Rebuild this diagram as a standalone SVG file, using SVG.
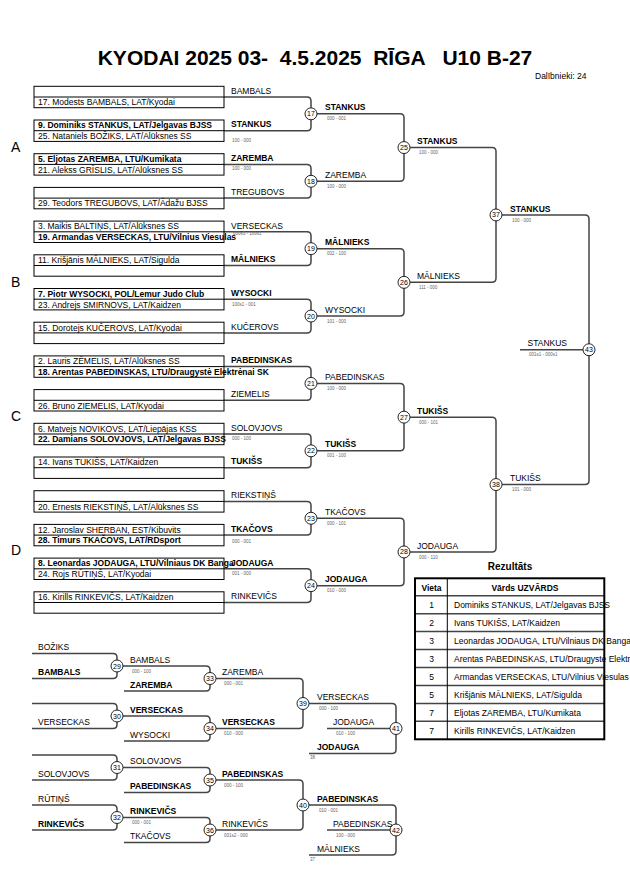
<svg xmlns="http://www.w3.org/2000/svg" width="630" height="891" viewBox="0 0 630 891">
<style>
text{font-family:"Liberation Sans",Arial,sans-serif;font-size:8.5px;fill:#000}
.b{font-weight:bold}
.s{font-size:4.5px;fill:#666}
.tiny{font-size:4.5px;fill:#666}
.n{font-size:7px;text-anchor:middle}
.box rect{fill:none;stroke:#000;stroke-width:1}
.box line{stroke:#000;stroke-width:1}
.ln{fill:none;stroke:#444;stroke-width:1.5}
.m circle{fill:#fff;stroke:#222;stroke-width:1}
.pool{font-size:14px}
.tb{fill:none;stroke:#000;stroke-width:2}
.tl{stroke:#444;stroke-width:1.5}
.tc{text-anchor:middle}
.title{white-space:pre}
</style>
<rect width="630" height="891" fill="#fff"/>
<text x="315" y="64.5" class="b tc title" xml:space="preserve" style="font-size:21px">KYODAI 2025 03-  4.5.2025  RĪGA   U10 B-27</text>
<text x="535" y="79">Dalībnieki: 24</text>
<text x="11" y="152" class="pool">A</text>
<text x="11" y="287" class="pool">B</text>
<text x="11" y="421" class="pool">C</text>
<text x="11" y="555" class="pool">D</text>

<g id="connectors">
<path class="ln" d="M224 97 H307 Q311 97 311 101 V126.7 Q311 130.7 307 130.7 H224"/>
<path class="ln" d="M224 164.4 H307 Q311 164.4 311 168.4 V194.1 Q311 198.1 307 198.1 H224"/>
<path class="ln" d="M224 231.8 H307 Q311 231.8 311 235.8 V261.5 Q311 265.5 307 265.5 H224"/>
<path class="ln" d="M224 299.2 H307 Q311 299.2 311 303.2 V328.9 Q311 332.9 307 332.9 H224"/>
<path class="ln" d="M224 366.6 H307 Q311 366.6 311 370.6 V396.3 Q311 400.3 307 400.3 H224"/>
<path class="ln" d="M224 434 H307 Q311 434 311 438 V463.7 Q311 467.7 307 467.7 H224"/>
<path class="ln" d="M224 501.4 H307 Q311 501.4 311 505.4 V531.1 Q311 535.1 307 535.1 H224"/>
<path class="ln" d="M224 568.8 H307 Q311 568.8 311 572.8 V598.5 Q311 602.5 307 602.5 H224"/>
<path class="ln" d="M317 113.85 H400 Q404 113.85 404 117.85 V177.25 Q404 181.25 400 181.25 H317"/>
<path class="ln" d="M317 248.65 H400 Q404 248.65 404 252.65 V312.05 Q404 316.05 400 316.05 H317"/>
<path class="ln" d="M317 383.45 H400 Q404 383.45 404 387.45 V446.85 Q404 450.85 400 450.85 H317"/>
<path class="ln" d="M317 518.25 H400 Q404 518.25 404 522.25 V581.65 Q404 585.65 400 585.65 H317"/>
<path class="ln" d="M410 147.55 H492 Q496 147.55 496 151.55 V278.35 Q496 282.35 492 282.35 H410"/>
<path class="ln" d="M410 417.15 H492 Q496 417.15 496 421.15 V547.95 Q496 551.95 492 551.95 H410"/>
<path class="ln" d="M502 214.95 H585 Q589 214.95 589 218.95 V480.55 Q589 484.55 585 484.55 H502"/>
<path class="ln" d="M520 349.75 H583"/>
<path class="ln" d="M32 653.5 H113 Q117 653.5 117 657.5 V674.5 Q117 678.5 113 678.5 H32"/>
<path class="ln" d="M32 703.5 H113 Q117 703.5 117 707.5 V724.5 Q117 728.5 113 728.5 H32"/>
<path class="ln" d="M123 666 H206 Q210 666 210 670 V687 Q210 691 206 691 H124"/>
<path class="ln" d="M123 716 H206 Q210 716 210 720 V737 Q210 741 206 741 H124"/>
<path class="ln" d="M216 678.5 H299 Q303 678.5 303 682.5 V724.5 Q303 728.5 299 728.5 H216"/>
<path class="ln" d="M309 703.5 H392 Q396 703.5 396 707.5 V749.5 Q396 753.5 392 753.5 H309"/>
<path class="ln" d="M327 728.5 H390"/>
<path class="ln" d="M32 755 H113 Q117 755 117 759 V776 Q117 780 113 780 H32"/>
<path class="ln" d="M32 805 H113 Q117 805 117 809 V826 Q117 830 113 830 H32"/>
<path class="ln" d="M123 767.5 H206 Q210 767.5 210 771.5 V788.5 Q210 792.5 206 792.5 H124"/>
<path class="ln" d="M123 817.5 H206 Q210 817.5 210 821.5 V838.5 Q210 842.5 206 842.5 H124"/>
<path class="ln" d="M216 780 H299 Q303 780 303 784 V826 Q303 830 299 830 H216"/>
<path class="ln" d="M309 805 H392 Q396 805 396 809 V851 Q396 855 392 855 H309"/>
<path class="ln" d="M327 830 H390"/>
</g>

<g id="entries">
<g id="box0" class="box"><rect x="34" y="86.3" width="190" height="21.4"/><line x1="34" y1="97" x2="224" y2="97"/><text x="38" y="105.3">17. Modests BAMBALS, LAT/Kyodai</text></g>
<g id="box1" class="box"><rect x="34" y="120" width="190" height="21.4"/><line x1="34" y1="130.7" x2="224" y2="130.7"/><text x="38" y="128.3" class="b">9. Dominiks STANKUS, LAT/Jelgavas BJSS</text><text x="38" y="139">25. Nataniels BOŽIKS, LAT/Alūksnes SS</text></g>
<g id="box2" class="box"><rect x="34" y="153.7" width="190" height="21.4"/><line x1="34" y1="164.4" x2="224" y2="164.4"/><text x="38" y="162" class="b">5. Eljotas ZAREMBA, LTU/Kumikata</text><text x="38" y="172.7">21. Alekss GRĪSLIS, LAT/Alūksnes SS</text></g>
<g id="box3" class="box"><rect x="34" y="187.4" width="190" height="21.4"/><line x1="34" y1="198.1" x2="224" y2="198.1"/><text x="38" y="206.4">29. Teodors TREGUBOVS, LAT/Ādažu BJSS</text></g>
<g id="box4" class="box"><rect x="34" y="221.1" width="190" height="21.4"/><line x1="34" y1="231.8" x2="224" y2="231.8"/><text x="38" y="229.4">3. Maikis BALTIŅŠ, LAT/Alūksnes SS</text><text x="38" y="240.1" class="b">19. Armandas VERSECKAS, LTU/Vilnius Viesulas</text></g>
<g id="box5" class="box"><rect x="34" y="254.8" width="190" height="21.4"/><line x1="34" y1="265.5" x2="224" y2="265.5"/><text x="38" y="263.1">11. Krišjānis MĀLNIEKS, LAT/Sigulda</text></g>
<g id="box6" class="box"><rect x="34" y="288.5" width="190" height="21.4"/><line x1="34" y1="299.2" x2="224" y2="299.2"/><text x="38" y="296.8" class="b">7. Piotr WYSOCKI, POL/Lemur Judo Club</text><text x="38" y="307.5">23. Andrejs SMIRNOVS, LAT/Kaidzen</text></g>
<g id="box7" class="box"><rect x="34" y="322.2" width="190" height="21.4"/><line x1="34" y1="332.9" x2="224" y2="332.9"/><text x="38" y="330.5">15. Dorotejs KUČEROVS, LAT/Kyodai</text></g>
<g id="box8" class="box"><rect x="34" y="355.9" width="190" height="21.4"/><line x1="34" y1="366.6" x2="224" y2="366.6"/><text x="38" y="364.2">2. Lauris ZĒMELIS, LAT/Alūksnes SS</text><text x="38" y="374.9" class="b">18. Arentas PABEDINSKAS, LTU/Draugystė Elektrėnai SK</text></g>
<g id="box9" class="box"><rect x="34" y="389.6" width="190" height="21.4"/><line x1="34" y1="400.3" x2="224" y2="400.3"/><text x="38" y="408.6">26. Bruno ZIEMELIS, LAT/Kyodai</text></g>
<g id="box10" class="box"><rect x="34" y="423.3" width="190" height="21.4"/><line x1="34" y1="434" x2="224" y2="434"/><text x="38" y="431.6">6. Matvejs NOVIKOVS, LAT/Liepājas KSS</text><text x="38" y="442.3" class="b">22. Damians SOLOVJOVS, LAT/Jelgavas BJSS</text></g>
<g id="box11" class="box"><rect x="34" y="457" width="190" height="21.4"/><line x1="34" y1="467.7" x2="224" y2="467.7"/><text x="38" y="465.3">14. Ivans TUKIŠS, LAT/Kaidzen</text></g>
<g id="box12" class="box"><rect x="34" y="490.7" width="190" height="21.4"/><line x1="34" y1="501.4" x2="224" y2="501.4"/><text x="38" y="509.7">20. Ernests RIEKSTIŅŠ, LAT/Alūksnes SS</text></g>
<g id="box13" class="box"><rect x="34" y="524.4" width="190" height="21.4"/><line x1="34" y1="535.1" x2="224" y2="535.1"/><text x="38" y="532.7">12. Jaroslav SHERBAN, EST/Kibuvits</text><text x="38" y="543.4" class="b">28. Timurs TKAČOVS, LAT/RDsport</text></g>
<g id="box14" class="box"><rect x="34" y="558.1" width="190" height="21.4"/><line x1="34" y1="568.8" x2="224" y2="568.8"/><text x="38" y="566.4" class="b">8. Leonardas JODAUGA, LTU/Vilniaus DK Banga</text><text x="38" y="577.1">24. Rojs RŪTIŅŠ, LAT/Kyodai</text></g>
<g id="box15" class="box"><rect x="34" y="591.8" width="190" height="21.4"/><line x1="34" y1="602.5" x2="224" y2="602.5"/><text x="38" y="600.1">16. Kirills RINKEVIČS, LAT/Kaidzen</text></g>
</g>

<g id="round1-labels">
<text x="231" y="93.7">BAMBALS</text>
<text x="231" y="127.4" class="b">STANKUS</text><text x="232" y="142" class="s">100 - 000</text>
<text x="231" y="161.1" class="b">ZAREMBA</text><text x="232" y="170" class="s">100 - 000</text>
<text x="231" y="194.8">TREGUBOVS</text>
<text x="231" y="228.5">VERSECKAS</text><text x="233" y="235" class="s">000s3 - 100s1</text>
<text x="231" y="262.2" class="b">MĀLNIEKS</text>
<text x="231" y="295.9" class="b">WYSOCKI</text><text x="232" y="306" class="s">100s1 - 001</text>
<text x="231" y="329.6">KUČEROVS</text>
<text x="231" y="363.3" class="b">PABEDINSKAS</text>
<text x="231" y="397">ZIEMELIS</text>
<text x="231" y="430.7">SOLOVJOVS</text><text x="232" y="440" class="s">000 - 100</text>
<text x="231" y="464.4" class="b">TUKIŠS</text>
<text x="231" y="498.1">RIEKSTIŅŠ</text>
<text x="231" y="531.8" class="b">TKAČOVS</text><text x="232" y="542.7" class="s">000 - 001</text>
<text x="231" y="565.5" class="b">JODAUGA</text><text x="232" y="575" class="s">001 - 000</text>
<text x="231" y="599.2">RINKEVIČS</text>
</g>

<g id="m17" class="m"><circle cx="311" cy="113.85" r="6"/><text x="311" y="116.3" class="n">17</text><text x="325" y="110.4" class="b">STANKUS</text><text x="327" y="120.4" class="s">000 - 001</text></g>
<g id="m18" class="m"><circle cx="311" cy="181.25" r="6"/><text x="311" y="183.7" class="n">18</text><text x="325" y="177.8">ZAREMBA</text><text x="327" y="187.8" class="s">100 - 000</text></g>
<g id="m19" class="m"><circle cx="311" cy="248.65" r="6"/><text x="311" y="251.1" class="n">19</text><text x="325" y="245.2" class="b">MĀLNIEKS</text><text x="327" y="255.2" class="s">002 - 100</text></g>
<g id="m20" class="m"><circle cx="311" cy="316.05" r="6"/><text x="311" y="318.5" class="n">20</text><text x="325" y="312.6">WYSOCKI</text><text x="327" y="322.6" class="s">101 - 000</text></g>
<g id="m21" class="m"><circle cx="311" cy="383.45" r="6"/><text x="311" y="385.9" class="n">21</text><text x="325" y="380">PABEDINSKAS</text><text x="327" y="390" class="s">100 - 000</text></g>
<g id="m22" class="m"><circle cx="311" cy="450.85" r="6"/><text x="311" y="453.3" class="n">22</text><text x="325" y="447.4" class="b">TUKIŠS</text><text x="327" y="457.4" class="s">001 - 100</text></g>
<g id="m23" class="m"><circle cx="311" cy="518.25" r="6"/><text x="311" y="520.7" class="n">23</text><text x="325" y="514.8">TKAČOVS</text><text x="327" y="524.8" class="s">000 - 101</text></g>
<g id="m24" class="m"><circle cx="311" cy="585.65" r="6"/><text x="311" y="588.1" class="n">24</text><text x="325" y="582.2" class="b">JODAUGA</text><text x="327" y="592.2" class="s">010 - 000</text></g>
<g id="m25" class="m"><circle cx="404" cy="147.55" r="6"/><text x="404" y="150" class="n">25</text><text x="417" y="144.1" class="b">STANKUS</text><text x="419" y="154.1" class="s">100 - 000</text></g>
<g id="m26" class="m"><circle cx="404" cy="282.35" r="6"/><text x="404" y="284.8" class="n">26</text><text x="417" y="278.9">MĀLNIEKS</text><text x="419" y="288.9" class="s">111 - 000</text></g>
<g id="m27" class="m"><circle cx="404" cy="417.15" r="6"/><text x="404" y="419.6" class="n">27</text><text x="417" y="413.7" class="b">TUKIŠS</text><text x="419" y="423.7" class="s">000 - 101</text></g>
<g id="m28" class="m"><circle cx="404" cy="551.95" r="6"/><text x="404" y="554.4" class="n">28</text><text x="417" y="548.5">JODAUGA</text><text x="419" y="558.5" class="s">000 - 110</text></g>
<g id="m37" class="m"><circle cx="496" cy="214.95" r="6"/><text x="496" y="217.4" class="n">37</text><text x="510" y="211.5" class="b">STANKUS</text><text x="512" y="221.5" class="s">100 - 000</text></g>
<g id="m38" class="m"><circle cx="496" cy="484.55" r="6"/><text x="496" y="487" class="n">38</text><text x="510" y="481.1">TUKIŠS</text><text x="512" y="491.1" class="s">101 - 000</text></g>
<g id="m43" class="m"><circle cx="589" cy="349.75" r="6"/><text x="589" y="352.2" class="n">43</text><text x="527.5" y="345.7">STANKUS</text><text x="529" y="356" class="s">001s1 - 000s1</text></g>

<g id="repechage-entries">
<text x="38" y="650">BOŽIKS</text>
<text x="38" y="675" class="b">BAMBALS</text>
<text x="38" y="725">VERSECKAS</text>
<text x="38" y="776.5">SOLOVJOVS</text>
<text x="38" y="801.5">RŪTIŅŠ</text>
<text x="38" y="826.5" class="b">RINKEVIČS</text>
</g>
<g id="m29" class="m"><circle cx="117" cy="666" r="6"/><text x="117" y="668.5" class="n">29</text><text x="130" y="662.5">BAMBALS</text><text x="132" y="672.5" class="s">000 - 100</text><text x="130" y="687.5" class="b">ZAREMBA</text></g>
<g id="m30" class="m"><circle cx="117" cy="716" r="6"/><text x="117" y="718.5" class="n">30</text><text x="130" y="712.5" class="b">VERSECKAS</text><text x="130" y="737.5">WYSOCKI</text></g>
<g id="m31" class="m"><circle cx="117" cy="767.5" r="6"/><text x="117" y="770" class="n">31</text><text x="130" y="764">SOLOVJOVS</text><text x="130" y="789" class="b">PABEDINSKAS</text></g>
<g id="m32" class="m"><circle cx="117" cy="817.5" r="6"/><text x="117" y="820" class="n">32</text><text x="130" y="814" class="b">RINKEVIČS</text><text x="132" y="824" class="s">000 - 001</text><text x="130" y="839">TKAČOVS</text></g>
<g id="m33" class="m"><circle cx="210" cy="678.5" r="6"/><text x="210" y="681" class="n">33</text><text x="222" y="675">ZAREMBA</text><text x="224" y="685" class="s">000 - 001</text></g>
<g id="m34" class="m"><circle cx="210" cy="728.5" r="6"/><text x="210" y="731" class="n">34</text><text x="222" y="725" class="b">VERSECKAS</text><text x="224" y="735" class="s">010 - 000</text></g>
<g id="m35" class="m"><circle cx="210" cy="780" r="6"/><text x="210" y="782.5" class="n">35</text><text x="222" y="776.5" class="b">PABEDINSKAS</text><text x="224" y="786.5" class="s">000 - 100</text></g>
<g id="m36" class="m"><circle cx="210" cy="830" r="6"/><text x="210" y="832.5" class="n">36</text><text x="222" y="826.5">RINKEVIČS</text><text x="224" y="836.5" class="s">001s2 - 000</text></g>
<g id="m39" class="m"><circle cx="303" cy="703.5" r="6"/><text x="303" y="706" class="n">39</text><text x="317" y="700">VERSECKAS</text><text x="319" y="710" class="s">000 - 100</text></g>
<g id="m40" class="m"><circle cx="303" cy="805" r="6"/><text x="303" y="807.5" class="n">40</text><text x="317" y="801.5" class="b">PABEDINSKAS</text><text x="319" y="811.5" class="s">010 - 001</text></g>
<g id="m41" class="m"><circle cx="396" cy="728.5" r="6"/><text x="396" y="731" class="n">41</text><text x="333" y="725">JODAUGA</text><text x="336" y="735" class="s">010 - 100</text><text x="317" y="750" class="b">JODAUGA</text><text x="310" y="759" class="tiny">38</text></g>
<g id="m42" class="m"><circle cx="396" cy="830" r="6"/><text x="396" y="832.5" class="n">42</text><text x="333" y="826.5">PABEDINSKAS</text><text x="336" y="836.5" class="s">100 - 000</text><text x="317" y="851.5">MĀLNIEKS</text><text x="310" y="860.5" class="tiny">37</text></g>

<g id="results">
<text x="510" y="570" class="b tc" style="font-size:10px">Rezultāts</text>
<line class="tl" x1="415" y1="595.7" x2="604.3" y2="595.7"/>
<line class="tl" x1="415" y1="613.65" x2="604.3" y2="613.65"/>
<line class="tl" x1="415" y1="631.6" x2="604.3" y2="631.6"/>
<line class="tl" x1="415" y1="649.55" x2="604.3" y2="649.55"/>
<line class="tl" x1="415" y1="667.5" x2="604.3" y2="667.5"/>
<line class="tl" x1="415" y1="685.45" x2="604.3" y2="685.45"/>
<line class="tl" x1="415" y1="703.4" x2="604.3" y2="703.4"/>
<line class="tl" x1="415" y1="721.35" x2="604.3" y2="721.35"/>
<line x1="447.3" y1="578.3" x2="447.3" y2="739.3" stroke="#000" stroke-width="1"/>
<rect class="tb" x="415" y="578.3" width="189.3" height="161"/>
<text x="431.5" y="591" class="b tc">Vieta</text>
<text x="525" y="591" class="b tc">Vārds UZVĀRDS</text>
<text x="431.5" y="608" class="tc">1</text><text x="454" y="608">Dominiks STANKUS, LAT/Jelgavas BJSS</text>
<text x="431.5" y="626" class="tc">2</text><text x="454" y="626">Ivans TUKIŠS, LAT/Kaidzen</text>
<text x="431.5" y="644" class="tc">3</text><text x="454" y="644">Leonardas JODAUGA, LTU/Vilniaus DK Banga</text>
<text x="431.5" y="662" class="tc">3</text><text x="454" y="662">Arentas PABEDINSKAS, LTU/Draugystė Elektrėnai SK</text>
<text x="431.5" y="680" class="tc">5</text><text x="454" y="680">Armandas VERSECKAS, LTU/Vilnius Viesulas</text>
<text x="431.5" y="697.8" class="tc">5</text><text x="454" y="697.8">Krišjānis MĀLNIEKS, LAT/Sigulda</text>
<text x="431.5" y="715.8" class="tc">7</text><text x="454" y="715.8">Eljotas ZAREMBA, LTU/Kumikata</text>
<text x="431.5" y="733.7" class="tc">7</text><text x="454" y="733.7">Kirills RINKEVIČS, LAT/Kaidzen</text>
</g>
</svg>
